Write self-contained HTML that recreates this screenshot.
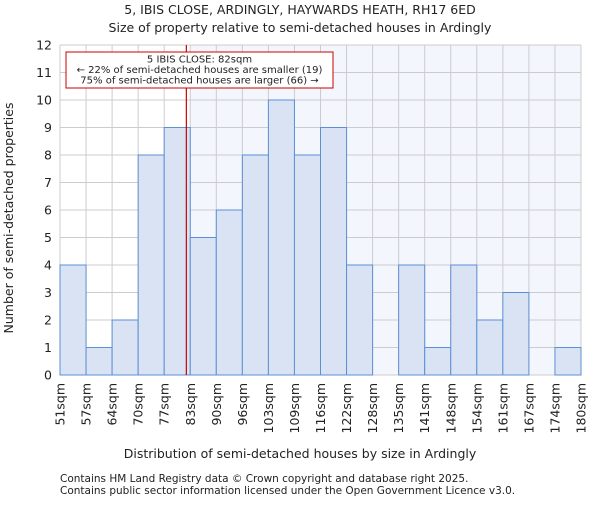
<!DOCTYPE html>
<html><head><meta charset="utf-8"><style>
body{margin:0;background:#fff;}
text{font-family:"DejaVu Sans","Liberation Sans",sans-serif;fill:#222;}
</style></head><body>
<svg id="chart" width="600" height="500" xmlns="http://www.w3.org/2000/svg">
<text x="300" y="14" text-anchor="middle" font-size="12.5">5, IBIS CLOSE, ARDINGLY, HAYWARDS HEATH, RH17 6ED</text>
<text x="300" y="32" text-anchor="middle" font-size="12.5">Size of property relative to semi-detached houses in Ardingly</text>
<g id="plot"></g>
<text x="300" y="458" text-anchor="middle" font-size="12.5">Distribution of semi-detached houses by size in Ardingly</text>
<text transform="translate(13,218) rotate(-90)" text-anchor="middle" font-size="12.5">Number of semi-detached properties</text>
<text x="60" y="482" font-size="10.5" fill="#444">Contains HM Land Registry data © Crown copyright and database right 2025.</text>
<text x="60" y="494" font-size="10.5" fill="#444">Contains public sector information licensed under the Open Government Licence v3.0.</text>
</svg>
<script>
const binLabels=["51sqm","57sqm","64sqm","70sqm","77sqm","83sqm","90sqm","96sqm","103sqm","109sqm","116sqm","122sqm","128sqm","135sqm","141sqm","148sqm","154sqm","161sqm","167sqm","174sqm","180sqm"];
const counts=[4,1,2,8,9,5,6,8,10,8,9,4,0,4,1,4,2,3,0,1];
const yTicks=[0,1,2,3,4,5,6,7,8,9,10,11,12];
const subjectBinPos=4.85;
const highlightFromBin=5;
const NS="http://www.w3.org/2000/svg";
const L=60,R=581,T=45,B=375,yMax=12;
const bw=(R-L)/counts.length;
const xs=i=>L+i*bw;
const ys=v=>B-v/yMax*(B-T);
const g=document.getElementById('plot');
function mk(tag,attrs){const e=document.createElementNS(NS,tag);for(const k in attrs)e.setAttribute(k,attrs[k]);g.appendChild(e);return e;}
let e=mk('rect',{x:xs(highlightFromBin),y:T,width:R-xs(highlightFromBin),height:B-T,fill:'#f3f6fd'});


yTicks.forEach(v=>{const l=mk('line',{x1:L,x2:R,y1:ys(v),y2:ys(v),stroke:'#ccc','stroke-width':1});


const t=mk('text',{x:L-8,y:ys(v)+4.5,'text-anchor':'end','font-size':12.5});t.textContent=v;

});
binLabels.forEach((s,i)=>{const l=mk('line',{x1:xs(i),x2:xs(i),y1:T,y2:B,stroke:'#ccc','stroke-width':1});


const t=mk('text',{transform:`translate(${xs(i)+4.5},${B+8}) rotate(-90)`,'text-anchor':'end','font-size':12.5});t.textContent=s;

});
counts.forEach((c,i)=>{if(c<=0)return;const r=mk('rect',{x:xs(i),y:ys(c),width:bw,height:B-ys(c),fill:'#dae3f3',stroke:'#5b8fd6','stroke-width':1});

});
const rl=mk('line',{x1:xs(subjectBinPos),x2:xs(subjectBinPos),y1:T,y2:B,stroke:'#c00','stroke-width':1.2});


const box=mk('rect',{x:66,y:52,width:267,height:36,fill:'#fff',stroke:'#c00','stroke-width':1});


["5 IBIS CLOSE: 82sqm","← 22% of semi-detached houses are smaller (19)","75% of semi-detached houses are larger (66) →"].forEach((s,i)=>{const t=mk('text',{x:199.5,y:62.5+i*10.5,'text-anchor':'middle','font-size':10});t.textContent=s;

});
</script>
</body></html>
